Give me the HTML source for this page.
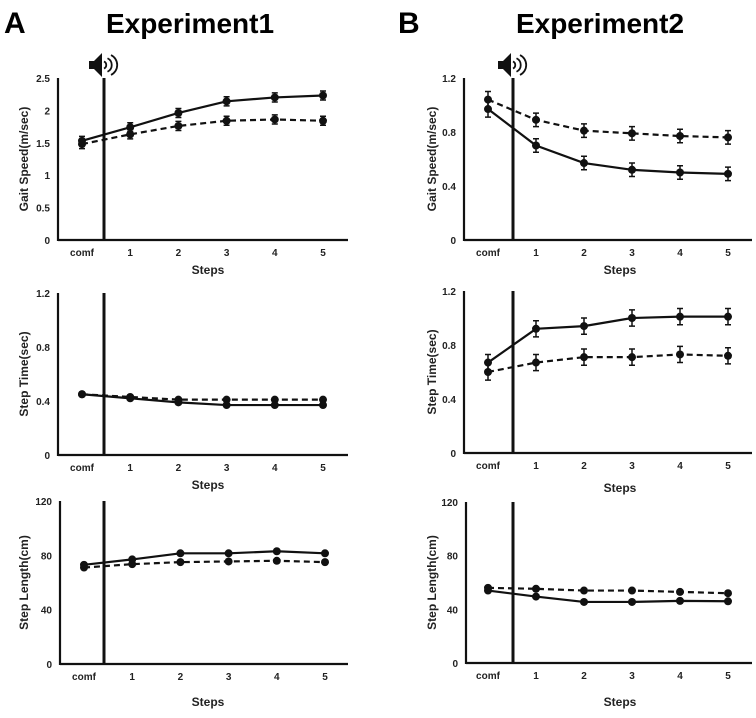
<!DOCTYPE html>
<html><head><meta charset="utf-8"><style>
body{margin:0;background:#fff;}
svg{display:block;font-family:"Liberation Sans",Arial,sans-serif;}
.tk{font-size:10px;font-weight:bold;fill:#222;}
.ttl{font-size:12px;font-weight:bold;fill:#222;}
</style></head><body>
<svg id="fig" width="756" height="718" viewBox="0 0 756 718">
<text x="4" y="33" font-size="30" font-weight="bold">A</text>
<text x="190" y="33" font-size="28" font-weight="bold" text-anchor="middle">Experiment1</text>
<text x="398" y="33" font-size="30" font-weight="bold">B</text>
<text x="600" y="33" font-size="28" font-weight="bold" text-anchor="middle">Experiment2</text>
</svg>
<script>
const categories = ["comf","1","2","3","4","5"];
// Experiment1
const e1SpeedSolid = [1.53,1.74,1.96,2.14,2.20,2.23];
const e1SpeedDashed = [1.48,1.63,1.76,1.84,1.86,1.84];
const e1TimeSolid = [0.45,0.42,0.39,0.37,0.37,0.37];
const e1TimeDashed = [0.45,0.43,0.41,0.41,0.41,0.41];
const e1LenSolid = [73,77,81.5,81.5,83,81.5];
const e1LenDashed = [71,73.5,75,75.5,76,75];
// Experiment2
const e2SpeedSolid = [0.97,0.70,0.57,0.52,0.50,0.49];
const e2SpeedDashed = [1.04,0.89,0.81,0.79,0.77,0.76];
const e2TimeSolid = [0.67,0.92,0.94,1.00,1.01,1.01];
const e2TimeDashed = [0.60,0.67,0.71,0.71,0.73,0.72];
const e2LenSolid = [54,49.5,45.5,45.5,46.3,46];
const e2LenDashed = [56,55.3,54,54,53,52];
const speed1Ticks = [0,0.5,1,1.5,2,2.5];
const speed2Ticks = [0,0.4,0.8,1.2];
const timeTicks = [0,0.4,0.8,1.2];
const lenTicks = [0,40,80,120];
const e1SpeedErr = [0.07,0.07,0.07,0.07,0.07,0.07];
const e2SpeedErr = [0.06,0.05,0.05,0.05,0.05,0.05];
const e2TimeErr = [0.06,0.06,0.06,0.06,0.06,0.06];

const NS="http://www.w3.org/2000/svg";
const svg=document.getElementById('fig');
function mk(tag,attrs,parent){const e=document.createElementNS(NS,tag);for(const k in attrs)e.setAttribute(k,attrs[k]);(parent||svg).appendChild(e);return e;}

function panel(o){
  const g=mk('g',{});
  
  
  const max=o.ticks[o.ticks.length-1];
  const y=v=>o.y0-(v/max)*(o.y0-o.yTop);
  const x=i=>o.xs+i*o.dx;
  // axes
  const ya=mk('line',{x1:o.ax,y1:o.yTop,x2:o.ax,y2:o.y0+1,stroke:'#111','stroke-width':2.2},g);
  
  
  const xa=mk('line',{x1:o.ax,y1:o.y0,x2:o.axEnd,y2:o.y0,stroke:'#111','stroke-width':2.2},g);
  
  
  const vl=mk('line',{x1:o.vx,y1:o.yTop,x2:o.vx,y2:o.y0,stroke:'#111','stroke-width':3},g);
  
  
  o.ticks.forEach(t=>{
    const tx=mk('text',{x:o.ax-8,y:y(t)+4,'text-anchor':'end',class:'tk'},g);
    tx.textContent=String(t);
    
    
  });
  categories.forEach((c,i)=>{
    const tx=mk('text',{x:x(i),y:o.y0+16,'text-anchor':'middle',class:'tk'},g);
    tx.textContent=c;
    
    
  });
  const st=mk('text',{x:o.stepsX,y:o.stepsY,'text-anchor':'middle',class:'ttl','font-size':'13'},g);
  st.textContent='Steps';
  
  
  const yt=mk('text',{x:0,y:0,'text-anchor':'middle',class:'ttl',transform:`translate(${o.ytX},${(o.yTop+o.y0)/2}) rotate(-90)`},g);
  yt.textContent=o.ytitle;
  
  
  [[o.dashed,'6,4',o.errD,'dashed'],[o.solid,null,o.errS,'solid']].forEach(([d,dash,err,nm])=>{
    const pts=d.map((v,i)=>x(i)+','+y(v)).join(' ');
    const pl=mk('polyline',{points:pts,fill:'none',stroke:'#111','stroke-width':2.2},g);
    if(dash)pl.setAttribute('stroke-dasharray',dash);
    
    
    d.forEach((v,i)=>{
      if(err){
        const e=err[i];
        const eb=mk('path',{d:`M${x(i)},${y(v+e)}V${y(v-e)}M${x(i)-3},${y(v+e)}H${x(i)+3}M${x(i)-3},${y(v-e)}H${x(i)+3}`,stroke:'#111','stroke-width':1.5,fill:'none'},g);
        
        
      }
      const m=mk('circle',{cx:x(i),cy:y(v),r:4,fill:'#111'},g);
      
      
    });
  });
}
function speaker(cx,cy,name){
  const g=mk('g',{});
  
  
  mk('path',{d:`M${cx-15},${cy-4}h5l8,-8v24l-8,-8h-5z`,fill:'#111'},g);
  [4,7.5,11].forEach(r=>mk('path',{d:`M${cx+r-4},${cy-r*0.9} A${r},${r} 0 0 1 ${cx+r-4},${cy+r*0.9}`,fill:'none',stroke:'#111','stroke-width':1.8},g));
}
const L={ax:58,axEnd:348,xs:82,dx:48.2,vx:104,ytX:28,stepsX:208};
const R={ax:464,axEnd:752,xs:488,dx:48,vx:513,ytX:436,stepsX:620};
panel({...L,name:'exp1-gait-speed-chart',yTop:78,y0:240,ticks:speed1Ticks,solid:e1SpeedSolid,dashed:e1SpeedDashed,errS:e1SpeedErr,errD:e1SpeedErr,ytitle:'Gait Speed(m/sec)',stepsY:274});
panel({...L,name:'exp1-step-time-chart',yTop:293,y0:455,ticks:timeTicks,solid:e1TimeSolid,dashed:e1TimeDashed,ytitle:'Step Time(sec)',stepsY:489});
panel({...L,ax:60,xs:84,name:'exp1-step-length-chart',yTop:501,y0:664,ticks:lenTicks,solid:e1LenSolid,dashed:e1LenDashed,ytitle:'Step Length(cm)',stepsY:706});
panel({...R,name:'exp2-gait-speed-chart',yTop:78,y0:240,ticks:speed2Ticks,solid:e2SpeedSolid,dashed:e2SpeedDashed,errS:e2SpeedErr,errD:e2SpeedErr,ytitle:'Gait Speed(m/sec)',stepsY:274});
panel({...R,name:'exp2-step-time-chart',yTop:291,y0:453,ticks:timeTicks,solid:e2TimeSolid,dashed:e2TimeDashed,errS:e2TimeErr,errD:e2TimeErr,ytitle:'Step Time(sec)',stepsY:492});
panel({...R,ax:466,name:'exp2-step-length-chart',yTop:502,y0:663,ticks:lenTicks,solid:e2LenSolid,dashed:e2LenDashed,ytitle:'Step Length(cm)',stepsY:706});
speaker(104,65,'sound-icon-exp1');
speaker(513,65,'sound-icon-exp2');
</script>
</body></html>
